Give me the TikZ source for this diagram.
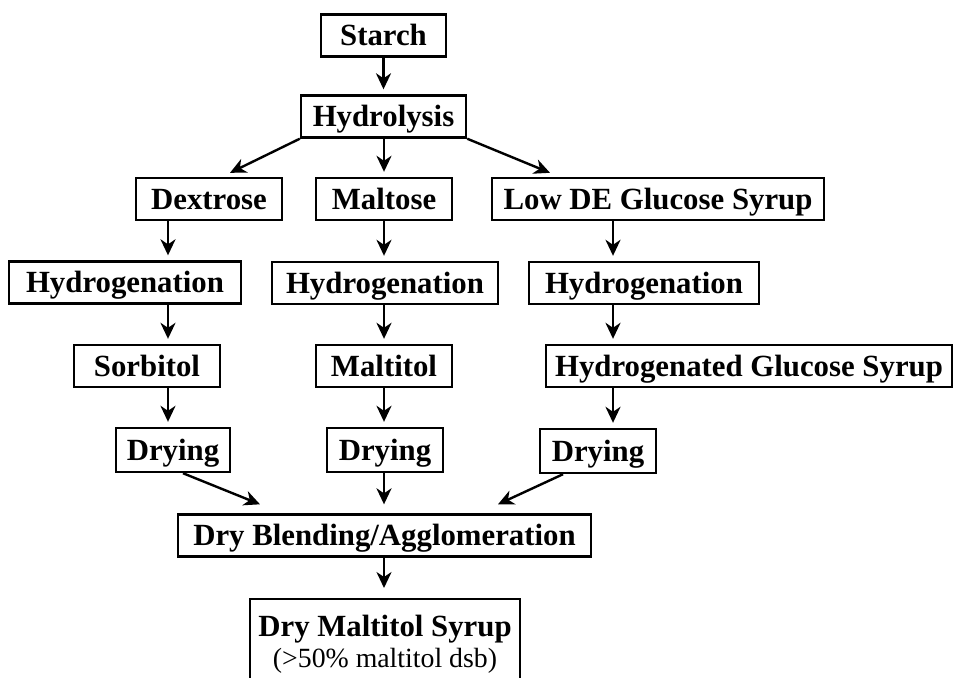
\documentclass[tikz,border=0pt]{standalone}
\usepackage{fontspec}
\setmainfont{Liberation Serif}
\usepackage{tikz}
\usetikzlibrary{arrows.meta, calc}

\begin{document}
\begin{tikzpicture}[x=0.5pt, y=-0.5pt,
    box/.style={draw, line width=1.2pt, minimum height=21pt, inner sep=0pt,
        text height=10.2pt, text depth=0pt,
        font=\fontsize{15.4}{15.5}\selectfont\bfseries},
    lastbox/.style={draw, line width=1.2pt, inner sep=0pt, inner ysep=8pt, align=center,
        font=\fontsize{15.4}{15.5}\selectfont\bfseries},
    arr/.style={-{Stealth[length=8pt, width=7.5pt, inset=2.5pt]}, line width=1.2pt, shorten >=2.5pt},
    diag/.style={arr, shorten >=0pt}]
    \useasboundingbox (0,0) rectangle (957,677);
    % Colunas das setas
    \coordinate (c1) at (168,0);
    \coordinate (c2) at (384,0);
    \coordinate (c3) at (613,0);
    % Topo
    \node[box, minimum width=62.5pt] (starch) at (383.5,35.5) {Starch};
    \node[box, minimum width=82.5pt] (hydro) at (383.5,116.5) {Hydrolysis};
    % Produtos da hidrolise
    \node[box, minimum width=73pt] (dex) at (209,199) {Dextrose};
    \node[box, minimum width=68pt] (mal) at (384,199) {Maltose};
    \node[box, minimum width=166pt] (lowde) at (658,199) {Low DE Glucose Syrup};
    % Hidrogenacao
    \node[box, minimum width=116pt] (hyd1) at (125,282.5) {Hydrogenation};
    \node[box, minimum width=113pt] (hyd2) at (385,283) {Hydrogenation};
    \node[box, minimum width=115pt] (hyd3) at (644,283) {Hydrogenation};
    \node[box, minimum width=73pt] (sorb) at (147,366) {Sorbitol};
    \node[box, minimum width=68pt] (malt) at (384,366) {Maltitol};
    \node[box, minimum width=203pt] (hgs) at (749,366) {Hydrogenated Glucose Syrup};
    % Secagem
    \node[box, minimum width=57pt, minimum height=22pt] (dry1) at (173,450) {Drying};
    \node[box, minimum width=58pt, minimum height=22pt] (dry2) at (385,450) {Drying};
    \node[box, minimum width=58pt, minimum height=22pt] (dry3) at (598,451) {Drying};
    % Mistura e produto final
    \node[box, minimum width=206.5pt] (blend) at (384.5,535.5) {Dry Blending/Agglomeration};
    \node[lastbox, anchor=north, minimum width=135pt] (syrup) at (385,598)
        {Dry Maltitol Syrup\\{\fontsize{13.9}{15.5}\selectfont\mdseries (>50\% maltitol dsb)}};
    % Setas
    \draw[arr] (starch.south) -- (hydro.north);
    \draw[diag] (hydro.south west) -- ($(dex.north)+(21,-4)$);
    \draw[arr] (hydro.south -| c2) -- (mal.north -| c2);
    \draw[diag] (hydro.south east) -- ($(lowde.north)+(-108,-4)$);
    \draw[arr] (dex.south -| c1) -- (hyd1.north -| c1);
    \draw[arr] (hyd1.south -| c1) -- (sorb.north -| c1);
    \draw[arr] (sorb.south -| c1) -- (dry1.north -| c1);
    \draw[arr] (mal.south -| c2) -- (hyd2.north -| c2);
    \draw[arr] (hyd2.south -| c2) -- (malt.north -| c2);
    \draw[arr] (malt.south -| c2) -- (dry2.north -| c2);
    \draw[arr] (lowde.south -| c3) -- (hyd3.north -| c3);
    \draw[arr] (hyd3.south -| c3) -- (hgs.north -| c3);
    \draw[arr] (hgs.south -| c3) -- (dry3.north -| c3);
    \draw[diag] ($(dry1.south)+(10,0)$) -- ($(blend.north)+(-124.5,-9)$);
    \draw[arr, shorten >=4.5pt] (dry2.south -| c2) -- (blend.north -| c2);
    \draw[diag] ($(dry3.south)+(-35,0)$) -- ($(blend.north)+(113.5,-9)$);
    \draw[arr, shorten >=5pt] (blend.south -| c2) -- (syrup.north -| c2);
\end{tikzpicture}
\end{document}
